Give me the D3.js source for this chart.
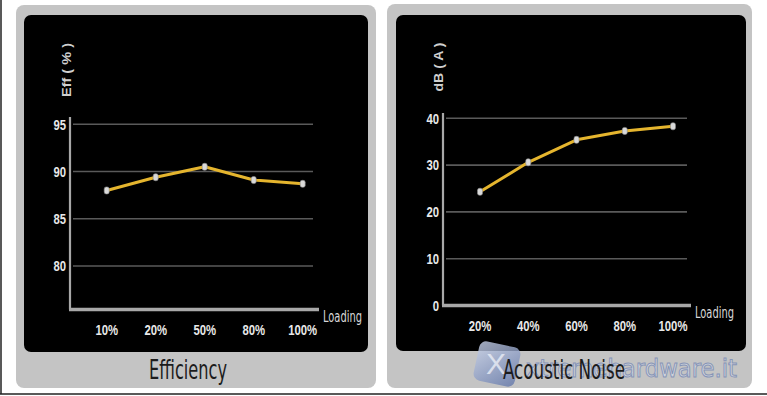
<!DOCTYPE html>
<html lang="en">
<head>
  <meta charset="UTF-8">
  <title>Efficiency and Acoustic Noise</title>
  <script src="https://d3js.org/d3.v7.min.js"></script>
  <style>
    body {
      margin: 0;
      padding: 0;
      background: #fff;
    }
    svg { display: block; }
    .tick-label {
      font-family: "Liberation Sans", Arial, sans-serif;
      font-weight: bold;
      font-size: 14.5px;
      fill: #e8e8e8;
    }
    .axis-title {
      font-family: "Liberation Sans", Arial, sans-serif;
      font-weight: bold;
      font-size: 12px;
      fill: #cfcfcf;
    }
    .loading {
      font-family: "DejaVu Sans Condensed", "Liberation Sans", sans-serif;
      font-size: 15px;
      fill: #d8d8d8;
    }
    .panel-title {
      font-family: "DejaVu Sans Condensed", "Liberation Sans", sans-serif;
      font-size: 27px;
      fill: #1c1c1c;
    }
  </style>
</head>
<body>
<div id="chart"></div>

<script>
  // Efficiency panel
  const effLoads = ["10%", "20%", "50%", "80%", "100%"];
  const effValues = [88.0, 89.4, 90.5, 89.1, 88.7];
  const effTicks = [80, 85, 90, 95];

  // Acoustic noise panel
  const noiseLoads = ["20%", "40%", "60%", "80%", "100%"];
  const noiseValues = [24.3, 30.6, 35.4, 37.3, 38.3];
  const noiseTicks = [0, 10, 20, 30, 40];

  const width = 767, height = 396;

  const svg = d3.select("#chart")
    .append("svg")
    .attr("width", width)
    .attr("height", height);

  // thin frame on left and bottom edges
  svg.append("line").attr("x1", 1).attr("x2", 1).attr("y1", 0).attr("y2", 394)
    .attr("stroke", "#222").attr("stroke-width", 1.5);
  svg.append("line").attr("x1", 0).attr("x2", width).attr("y1", 394).attr("y2", 394)
    .attr("stroke", "#222").attr("stroke-width", 1.5);

  const defs = svg.append("defs");
  const lg = defs.append("linearGradient").attr("id", "logoGrad")
    .attr("x1", 0).attr("y1", 0).attr("x2", 1).attr("y2", 1);
  lg.append("stop").attr("offset", "0%").attr("stop-color", "#c9d3ea");
  lg.append("stop").attr("offset", "100%").attr("stop-color", "#5f74a8");

  // narrow bold labels: squeeze horizontally
  const squeeze = (x, y) => `translate(${x},${y}) scale(0.78,1)`;

  function drawPanel(cfg) {
    const g = svg.append("g");

    // gray card and black plot area
    g.append("rect")
      .attr("x", cfg.card[0]).attr("y", cfg.card[1])
      .attr("width", cfg.card[2]).attr("height", cfg.card[3])
      .attr("rx", 8).attr("fill", "#c4c4c4");
    g.append("rect")
      .attr("x", cfg.inner[0]).attr("y", cfg.inner[1])
      .attr("width", cfg.inner[2]).attr("height", cfg.inner[3])
      .attr("rx", 7).attr("fill", "#000");

    const x = d3.scalePoint()
      .domain(cfg.loads)
      .range(cfg.xRange);

    const y = d3.scaleLinear()
      .domain(cfg.yDomain)
      .range(cfg.yRange);

    const base = y(cfg.yDomain[0]);

    // gridlines
    g.selectAll(".grid")
      .data(cfg.ticks.filter(t => t > cfg.yDomain[0]))
      .join("line")
      .attr("x1", cfg.axisX + 3).attr("x2", cfg.gridEnd)
      .attr("y1", d => y(d)).attr("y2", d => y(d))
      .attr("stroke", "#5a5a5a").attr("stroke-width", 1.6);

    // tick labels
    g.selectAll(".ytick")
      .data(cfg.ticks)
      .join("text")
      .attr("class", "tick-label")
      .attr("transform", d => squeeze(cfg.axisX - 4, y(d)))
      .attr("dy", "0.36em")
      .attr("text-anchor", "end")
      .text(d => d);

    // axes
    g.append("line")
      .attr("x1", cfg.axisX).attr("x2", cfg.axisX)
      .attr("y1", cfg.axisTop).attr("y2", base)
      .attr("stroke", "#a8a8a8").attr("stroke-width", 2.2);
    g.append("line")
      .attr("x1", cfg.axisX - 1).attr("x2", cfg.axisEnd)
      .attr("y1", base).attr("y2", base)
      .attr("stroke", "#a8a8a8").attr("stroke-width", 3.5);

    // x labels
    g.selectAll(".xlab")
      .data(cfg.loads)
      .join("text")
      .attr("class", "tick-label")
      .attr("transform", d => squeeze(x(d), base + 25))
      .attr("text-anchor", "middle")
      .text(d => d);

    g.append("text")
      .attr("class", "loading")
      .attr("x", cfg.axisEnd + 4)
      .attr("y", base + 12.5)
      .attr("textLength", 39)
      .attr("lengthAdjust", "spacingAndGlyphs")
      .text("Loading");

    // y title
    g.append("text")
      .attr("class", "axis-title")
      .attr("transform", `translate(${cfg.titleX},${cfg.titleY}) rotate(-90)`)
      .attr("text-anchor", "middle")
      .attr("textLength", cfg.titleLen)
      .attr("lengthAdjust", "spacingAndGlyphs")
      .text(cfg.yTitle);

    // line
    const line = d3.line()
      .x((d, i) => x(cfg.loads[i]))
      .y(d => y(d));
    g.append("path")
      .datum(cfg.values)
      .attr("d", line)
      .attr("fill", "none")
      .attr("stroke", "#e5b52e")
      .attr("stroke-width", 3)
      .attr("stroke-linejoin", "round");

    // markers
    g.selectAll(".marker")
      .data(cfg.values)
      .join("rect")
      .attr("x", (d, i) => x(cfg.loads[i]) - 2.5)
      .attr("y", d => y(d) - 3.5)
      .attr("width", 5).attr("height", 7)
      .attr("rx", 2)
      .attr("fill", "#d9d9d9")
      .attr("stroke", "#888").attr("stroke-width", 0.6);

    return g;
  }

  drawPanel({
    card: [16, 5, 360, 383],
    inner: [24, 15, 344, 337],
    loads: effLoads,
    values: effValues,
    ticks: effTicks,
    xRange: [106.7, 302.7],
    yDomain: [75.4, 95],
    yRange: [309.5, 124.3],
    axisX: 70,
    axisTop: 117,
    axisEnd: 319,
    gridEnd: 313,
    yTitle: "Eff ( % )",
    titleLen: 54,
    titleX: 71,
    titleY: 70
  }).append("text")
    .attr("class", "panel-title")
    .attr("x", 188)
    .attr("y", 379)
    .attr("text-anchor", "middle")
    .attr("textLength", 78)
    .attr("lengthAdjust", "spacingAndGlyphs")
    .text("Efficiency");

  const noise = drawPanel({
    card: [387, 4, 365, 384],
    inner: [396, 15, 350, 336],
    loads: noiseLoads,
    values: noiseValues,
    ticks: noiseTicks,
    xRange: [480, 673],
    yDomain: [0, 40],
    yRange: [305.5, 118.3],
    axisX: 443,
    axisTop: 113,
    axisEnd: 691,
    gridEnd: 687,
    yTitle: "dB ( A )",
    titleLen: 49,
    titleX: 443,
    titleY: 67
  });

  // watermark logo
  noise.append("rect")
    .attr("x", 476).attr("y", 344)
    .attr("width", 42).attr("height", 40)
    .attr("rx", 7)
    .attr("transform", "rotate(12, 497, 364)")
    .attr("fill", "url(#logoGrad)")
    .attr("opacity", 0.8);
  noise.append("text")
    .attr("x", 486).attr("y", 374)
    .attr("font-family", "Liberation Sans, Arial, sans-serif")
    .attr("font-size", 30)
    .attr("fill", "#eef1f8")
    .attr("opacity", 0.75)
    .text("X");
  noise.append("text")
    .attr("x", 526).attr("y", 377)
    .attr("font-family", "DejaVu Sans, sans-serif")
    .attr("font-size", 24)
    .attr("fill", "#d2d6e0")
    .attr("stroke", "#7c8db5")
    .attr("stroke-width", 1)
    .attr("opacity", 0.85)
    .attr("textLength", 211)
    .attr("lengthAdjust", "spacingAndGlyphs")
    .text("xtremehardware.it");

  noise.append("text")
    .attr("class", "panel-title")
    .attr("x", 564)
    .attr("y", 379)
    .attr("text-anchor", "middle")
    .attr("textLength", 122)
    .attr("lengthAdjust", "spacingAndGlyphs")
    .text("Acoustic Noise");
</script>
</body>
</html>
